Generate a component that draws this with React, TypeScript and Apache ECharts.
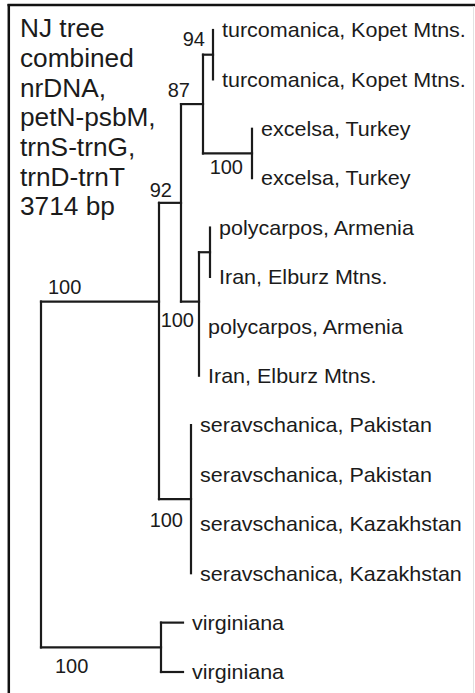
import React, { useEffect, useRef } from 'react';
import * as echarts from 'echarts';

// ---- data ----
const titleLines = ['NJ tree', 'combined', 'nrDNA,', 'petN-psbM,', 'trnS-trnG,', 'trnD-trnT', '3714 bp'];

const leafNames = [
  'turcomanica, Kopet Mtns.',
  'turcomanica, Kopet Mtns.',
  'excelsa, Turkey',
  'excelsa, Turkey',
  'polycarpos, Armenia',
  'Iran, Elburz Mtns.',
  'polycarpos, Armenia',
  'Iran, Elburz Mtns.',
  'seravschanica, Pakistan',
  'seravschanica, Pakistan',
  'seravschanica, Kazakhstan',
  'seravschanica, Kazakhstan',
  'virginiana',
  'virginiana',
];
const leafParents = ['T', 'T', 'E', 'E', 'Q', 'Q', 'P', 'P', 'S', 'S', 'S', 'S', 'V', 'V'];
const leafDepths = [172, 172, 211, 211, 169, 169, 158, 158, 150, 150, 150, 150, 142, 142];

const nodeIds = ['root', 'A', 'B', 'C', 'T', 'E', 'P', 'Q', 'S', 'V'];
const nodeParents = ['', 'root', 'A', 'B', 'C', 'C', 'B', 'P', 'A', 'root'];
const nodeDepths = [0, 118, 140, 162, 172, 211, 158, 169, 150, 120];
const nodeSupport: (number | null)[] = [null, 100, 92, 87, 94, 100, 100, null, 100, 100];

// ---- styles ----
const INK = '#1b1b1b';
const FONT = "'Liberation Sans', Arial, Helvetica, sans-serif";
const supportLabelOffsets: Record<string, { from: 'node' | 'parent'; dx: number; dy: number }> = {
  A: { from: 'parent', dx: 7, dy: -15 },
  B: { from: 'node', dx: -9, dy: -13 },
  C: { from: 'node', dx: -13, dy: -14 },
  T: { from: 'node', dx: -8, dy: -16 },
  E: { from: 'node', dx: -9, dy: 13.5 },
  P: { from: 'node', dx: -5, dy: 18 },
  S: { from: 'node', dx: -8, dy: 21 },
  V: { from: 'parent', dx: 14, dy: 19 },
};

// ---- layout helpers (tree topology -> y by mean of descendant leaves) ----
function leavesOf(id: string): number[] {
  const out: number[] = [];
  leafParents.forEach((p, j) => { if (p === id) out.push(j); });
  nodeParents.forEach((p, i) => { if (p === id) out.push(...leavesOf(nodeIds[i])); });
  return out;
}
const nodeY = nodeIds.map((id) => {
  const l = leavesOf(id);
  return l.reduce((s, v) => s + v, 0) / l.length;
});

const segments: number[][] = [];
nodeIds.forEach((id, i) => {
  const p = nodeParents[i];
  if (p) {
    const pi = nodeIds.indexOf(p);
    segments.push([nodeDepths[pi], nodeY[i], nodeDepths[i], nodeY[i]]);
  }
  const ys: number[] = [];
  nodeParents.forEach((pp, k) => { if (pp === id) ys.push(nodeY[k]); });
  leafParents.forEach((pp, j) => { if (pp === id) ys.push(j); });
  segments.push([nodeDepths[i], Math.min(...ys), nodeDepths[i], Math.max(...ys)]);
});
leafNames.forEach((_, j) => {
  const pi = nodeIds.indexOf(leafParents[j]);
  if (leafDepths[j] > nodeDepths[pi]) segments.push([nodeDepths[pi], j, leafDepths[j], j]);
});

const supportIdx = nodeIds.map((_, i) => i).filter((i) => nodeSupport[i] != null);

export default function App() {
  const ref = useRef<HTMLDivElement>(null);
  useEffect(() => {
    if (!ref.current) return;
    const chart = echarts.init(ref.current, null, { renderer: 'svg' });
    chart.setOption({
      animation: false,
      backgroundColor: '#ffffff',
      grid: { left: 41, top: 30, width: 434, height: 642 },
      xAxis: { type: 'value', min: 0, max: 434, show: false },
      yAxis: { type: 'value', min: 0, max: 13, inverse: true, show: false },
      graphic: [
        { type: 'line', shape: { x1: 7.5, y1: 5, x2: 475, y2: 5 }, style: { stroke: '#111', lineWidth: 2.5 } },
        { type: 'line', shape: { x1: 8.8, y1: 4, x2: 8.8, y2: 693 }, style: { stroke: '#111', lineWidth: 2.5 } },
        { type: 'line', shape: { x1: 473.5, y1: 6, x2: 473.5, y2: 693 }, style: { stroke: '#e2e2e2', lineWidth: 1 } },
        {
          type: 'text', x: 20, y: 13.6, scaleX: 1.05,
          style: {
            text: titleLines.join('\n'), fill: INK, fontSize: 25, fontFamily: FONT,
            lineHeight: 29.7, verticalAlign: 'top', align: 'left',
          },
        },
      ],
      series: [
        {
          type: 'custom', coordinateSystem: 'cartesian2d', clip: false, silent: true,
          data: segments, encode: { x: [0, 2], y: [1, 3] },
          renderItem: (_p: any, api: any) => {
            const a = api.coord([api.value(0), api.value(1)]);
            const b = api.coord([api.value(2), api.value(3)]);
            return {
              type: 'line',
              shape: { x1: a[0], y1: a[1], x2: b[0], y2: b[1] },
              style: { stroke: INK, lineWidth: 2.2, lineCap: 'square' },
            };
          },
        },
        {
          type: 'custom', coordinateSystem: 'cartesian2d', clip: false, silent: true,
          data: leafDepths.map((d, j) => [d, j]), encode: { x: 0, y: 1 },
          renderItem: (params: any, api: any) => {
            const c = api.coord([api.value(0), api.value(1)]);
            return {
              type: 'text', x: c[0] + 9, y: c[1], scaleX: 1.05,
              style: {
                text: leafNames[params.dataIndex], fill: INK, fontSize: 20.5, fontFamily: FONT,
                align: 'left', verticalAlign: 'middle',
              },
            };
          },
        },
        {
          type: 'custom', coordinateSystem: 'cartesian2d', clip: false, silent: true,
          data: supportIdx.map((i) => [nodeDepths[i], nodeY[i]]), encode: { x: 0, y: 1 },
          renderItem: (params: any, api: any) => {
            const i = supportIdx[params.dataIndex];
            const id = nodeIds[i];
            const off = supportLabelOffsets[id];
            const px = nodeDepths[nodeIds.indexOf(nodeParents[i])];
            const c = api.coord([off.from === 'node' ? nodeDepths[i] : px, nodeY[i]]);
            return {
              type: 'text', x: c[0] + off.dx, y: c[1] + off.dy,
              style: {
                text: String(nodeSupport[i]), fill: INK, fontSize: 20, fontFamily: FONT,
                align: off.from === 'node' ? 'right' : 'left', verticalAlign: 'middle',
              },
            };
          },
        },
      ],
    });
    return () => chart.dispose();
  }, []);
  return <div ref={ref} style={{ position: 'fixed', left: 0, top: 0, width: 475, height: 693 }} />;
}
